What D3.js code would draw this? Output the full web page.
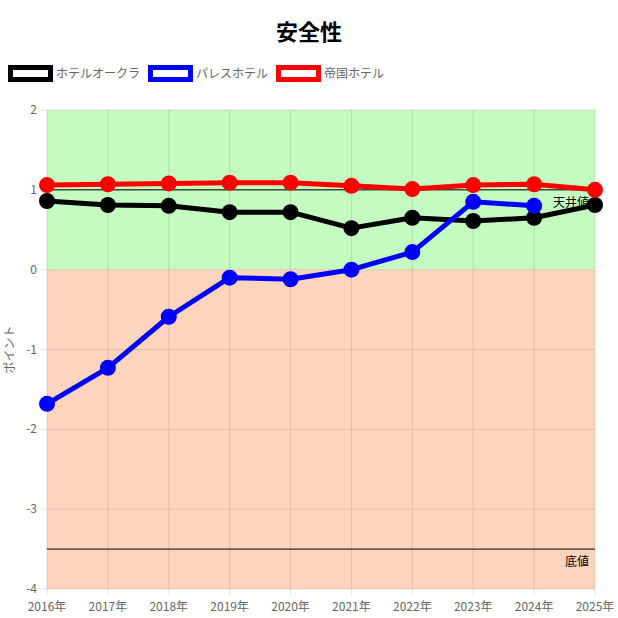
<!DOCTYPE html>
<html><head><meta charset="utf-8">
<script src="https://cdn.jsdelivr.net/npm/d3@7"></script>
<style>body{margin:0;background:#fff;font-family:"Noto Sans CJK JP","Noto Sans",sans-serif;}</style>
</head><body><div id="chart"></div>
<script>
var years = ["2016年","2017年","2018年","2019年","2020年","2021年","2022年","2023年","2024年","2025年"];
var okura = [0.86,0.81,0.80,0.72,0.72,0.52,0.65,0.61,0.65,0.81];
var palace = [-1.68,-1.23,-0.59,-0.10,-0.12,0.00,0.22,0.85,0.80,null];
var imperial = [1.06,1.07,1.08,1.09,1.09,1.05,1.01,1.06,1.07,1.00];
var names = ["ホテルオークラ","パレスホテル","帝国ホテル"];
var colors = ["#000","#00f","#f00"];
var yTicks = [2,1,0,-1,-2,-3,-4];

var W = 618, H = 618;
var margin = {top:110, right:23, bottom:29, left:47};
var svg = d3.select('#chart').append('svg').attr('width',W).attr('height',H);

var x = d3.scalePoint().domain(years).range([margin.left, W-margin.right]);
var y = d3.scaleLinear().domain([-4,2]).range([H-margin.bottom, margin.top]);

// background bands
svg.append('rect').attr('x',x.range()[0]).attr('width',x.range()[1]-x.range()[0])
  .attr('y',y(2)).attr('height',y(0)-y(2)).attr('fill','#c3fbc0');
svg.append('rect').attr('x',x.range()[0]).attr('width',x.range()[1]-x.range()[0])
  .attr('y',y(0)).attr('height',y(-4)-y(0)).attr('fill','#fdd4bd');

// grid
svg.selectAll('line.gy').data(yTicks).enter().append('line')
  .attr('x1',margin.left-6).attr('x2',W-margin.right)
  .attr('y1',d=>y(d)).attr('y2',d=>y(d)).attr('stroke','rgba(0,0,0,0.1)');
svg.selectAll('line.gx').data(years).enter().append('line')
  .attr('x1',d=>x(d)).attr('x2',d=>x(d)).attr('y1',y(2)).attr('y2',y(-4)+6)
  .attr('stroke','rgba(0,0,0,0.1)');

svg.selectAll('text.yt').data(yTicks).enter().append('text')
  .attr('x',margin.left-10).attr('y',d=>y(d)+4).attr('text-anchor','end')
  .attr('font-size',12).attr('fill','#666').text(d=>d);
svg.selectAll('text.xt').data(years).enter().append('text')
  .attr('x',d=>x(d)).attr('y',H-margin.bottom+22).attr('text-anchor','middle')
  .attr('font-size',12).attr('fill','#666').text(d=>d);

svg.append('text').attr('transform','translate(14,'+((y(2)+y(-4))/2)+') rotate(-90)')
  .attr('text-anchor','middle').attr('font-size',12).attr('fill','#666').text('ポイント');

// reference lines
[[1,'天井値'],[-3.5,'底値']].forEach(function(r){
  svg.append('line').attr('x1',x.range()[0]).attr('x2',x.range()[1])
    .attr('y1',y(r[0])).attr('y2',y(r[0])).attr('stroke','#000').attr('stroke-width',1);
  svg.append('text').attr('x',x.range()[1]-6).attr('y',y(r[0])+17).attr('text-anchor','end')
    .attr('font-size',12).attr('fill','#000').text(r[1]);
});

var line = d3.line().defined(d=>d!=null).x((d,i)=>x(years[i])).y(d=>y(d));
[okura,palace,imperial].forEach(function(s,k){
  svg.append('path').datum(s).attr('d',line).attr('fill','none')
    .attr('stroke',colors[k]).attr('stroke-width',5).attr('stroke-linejoin','round');
  svg.selectAll(null).data(s.map((v,i)=>[years[i],v]).filter(d=>d[1]!=null)).enter()
    .append('circle').attr('cx',d=>x(d[0])).attr('cy',d=>y(d[1])).attr('r',8).attr('fill',colors[k]);
});

// title
svg.append('text').attr('x',W/2).attr('y',40).attr('text-anchor','middle')
  .attr('font-size',22).attr('font-weight','bold').attr('fill','#000').text('安全性');

// legend
var lx = [8,148,276];
names.forEach(function(n,k){
  svg.append('rect').attr('x',lx[k]+2.5).attr('y',67.5).attr('width',40).attr('height',12)
    .attr('fill','#fff').attr('stroke',colors[k]).attr('stroke-width',5);
  svg.append('text').attr('x',lx[k]+48).attr('y',78).attr('font-size',12).attr('fill','#666').text(n);
});
</script></body></html>
